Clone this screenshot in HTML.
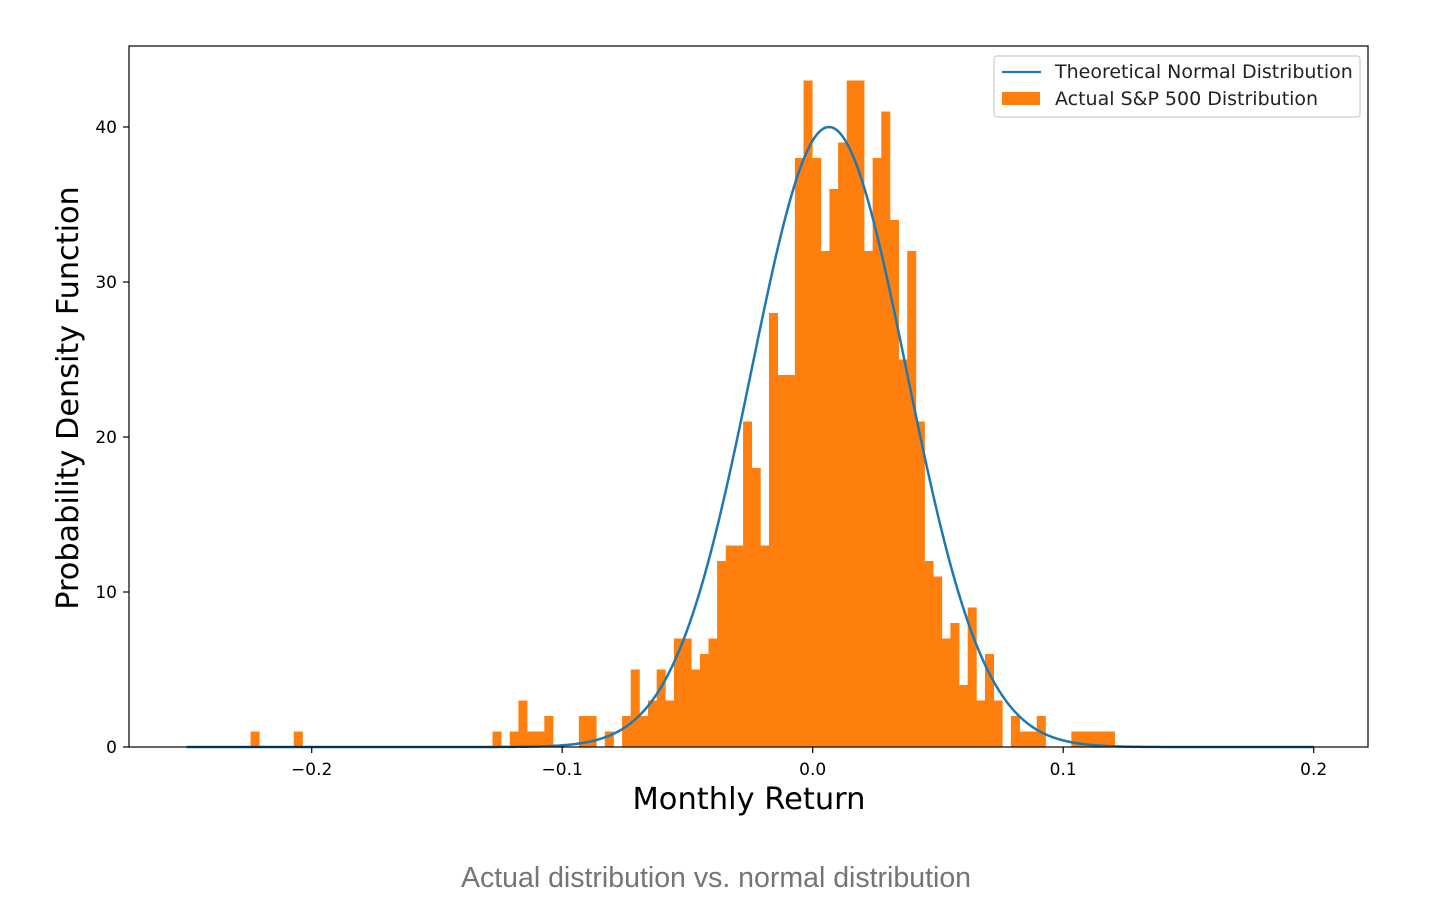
<!DOCTYPE html>
<html><head><meta charset="utf-8"><style>
html,body{margin:0;padding:0;background:#fff;}
svg{display:block;font-family:"DejaVu Sans","Liberation Sans",sans-serif;}
</style></head><body>
<svg id="chart" width="1444" height="922" viewBox="0 0 1444 922" xmlns="http://www.w3.org/2000/svg">
<g id="bars"></g>
<path id="curve" fill="none" stroke="#1f77b4" stroke-width="2.5"/>
<rect x="129" y="46" width="1239" height="701" fill="none" stroke="#000" stroke-width="1.2"/>
<g id="xticks"></g>
<g id="yticks"></g>
<text x="749" y="809" font-size="30.5" text-anchor="middle" fill="#000">Monthly Return</text>
<text transform="translate(78,398) rotate(-90)" font-size="30.3" text-anchor="middle" fill="#000">Probability Density Function</text>
<g>
<rect x="994" y="56" width="366" height="61" rx="3" fill="#fff" stroke="#ccc" stroke-width="1.2"/>
<line x1="1002" y1="72" x2="1041" y2="72" stroke="#1f77b4" stroke-width="2.2"/>
<text x="1055" y="78" font-size="19" fill="#222">Theoretical Normal Distribution</text>
<rect x="1002" y="92" width="38" height="13" fill="#ff7f0e"/>
<text x="1055" y="105" font-size="19" fill="#222">Actual S&amp;P 500 Distribution</text>
</g>
<text x="716" y="887" font-size="28.5" text-anchor="middle" fill="#757575" font-family="Liberation Sans, sans-serif">Actual distribution vs. normal distribution</text>
</svg>
<script>
const binStart = -0.2244;
const binWidth = 0.003449;
const densities = [1,0,0,0,0,1,0,0,0,0,0,0,0,0,0,0,0,0,0,0,0,0,0,0,0,0,0,0,1,0,1,3,1,1,2,0,0,0,2,2,0,1,0,2,5,2,3,5,3,7,7,5,6,7,12,13,13,21,18,13,28,24,24,38,43,38,32,36,39,43,43,32,38,41,34,25,32,21,12,11,7,8,4,9,3,6,3,0,2,1,1,2,0,0,0,1,1,1,1,1];
const curveMu = 0.0065;
const curveSigma = 0.031;
const curvePeak = 40;
const curveRange = [-0.25, 0.2];
const xTicks = [-0.2, -0.1, 0.0, 0.1, 0.2];
const xTickLabels = ["\u22120.2", "\u22120.1", "0.0", "0.1", "0.2"];
const yTicks = [0, 10, 20, 30, 40];
const yTickLabels = ["0", "10", "20", "30", "40"];

const NS = "http://www.w3.org/2000/svg";
const X0 = 812.7, XS = 2505, Y0 = 747, YS = 15.5;
function xs(v){return X0 + v*XS;}
function ys(v){return Y0 - v*YS;}

const gb = document.getElementById('bars');
densities.forEach((d,i)=>{
  if(!d) return;
  const x1 = xs(binStart + i*binWidth), x2 = xs(binStart + (i+1)*binWidth);
  const r = document.createElementNS(NS,'rect');
  r.setAttribute('x', x1); r.setAttribute('width', x2-x1+0.4);
  r.setAttribute('y', ys(d)); r.setAttribute('height', Y0-ys(d));
  r.setAttribute('fill', '#ff7f0e');
  
  
  gb.appendChild(r);
});

let p = "";
const N = 600;
for(let i=0;i<=N;i++){
  const v = curveRange[0] + (curveRange[1]-curveRange[0])*i/N;
  const pdf = curvePeak*Math.exp(-0.5*Math.pow((v-curveMu)/curveSigma,2));
  p += (i?"L":"M") + xs(v).toFixed(2) + "," + ys(pdf).toFixed(2);
}
document.getElementById('curve').setAttribute('d', p);

const gx = document.getElementById('xticks');
xTicks.forEach((t,i)=>{
  const l = document.createElementNS(NS,'line');
  l.setAttribute('x1', xs(t)); l.setAttribute('x2', xs(t));
  l.setAttribute('y1', 747); l.setAttribute('y2', 753);
  l.setAttribute('stroke', '#000'); l.setAttribute('stroke-width', '1.2');
  
  
  gx.appendChild(l);
  const tx = document.createElementNS(NS,'text');
  tx.setAttribute('x', xs(t)); tx.setAttribute('y', 775);
  tx.setAttribute('font-size', '17'); tx.setAttribute('text-anchor', 'middle');
  tx.textContent = xTickLabels[i];
  
  
  gx.appendChild(tx);
});
const gy = document.getElementById('yticks');
yTicks.forEach((t,i)=>{
  const l = document.createElementNS(NS,'line');
  l.setAttribute('x1', 123); l.setAttribute('x2', 129);
  l.setAttribute('y1', ys(t)); l.setAttribute('y2', ys(t));
  l.setAttribute('stroke', '#000'); l.setAttribute('stroke-width', '1.2');
  
  
  gy.appendChild(l);
  const tx = document.createElementNS(NS,'text');
  tx.setAttribute('x', 117); tx.setAttribute('y', ys(t)+6);
  tx.setAttribute('font-size', '17'); tx.setAttribute('text-anchor', 'end');
  tx.textContent = yTickLabels[i];
  
  
  gy.appendChild(tx);
});
</script>
</body></html>
